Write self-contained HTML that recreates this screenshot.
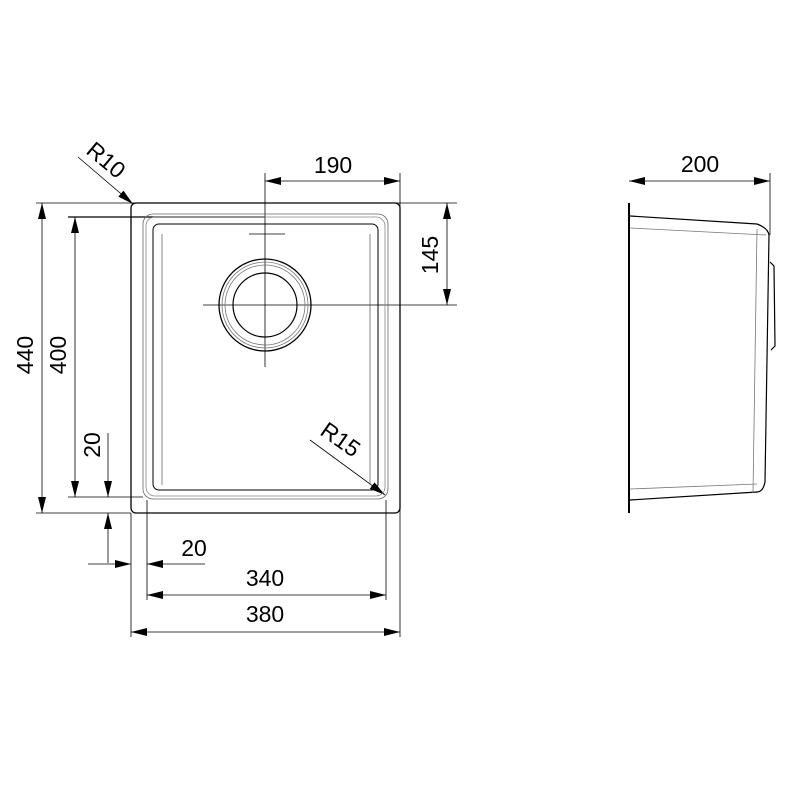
<!DOCTYPE html>
<html><head><style>html,body{margin:0;padding:0;background:#fff}svg{display:block}text{font-family:"Liberation Sans",sans-serif;font-size:23px;fill:#000}</style></head>
<body>
<svg width="800" height="800" viewBox="0 0 800 800" xmlns="http://www.w3.org/2000/svg">
<defs>
<marker id="a" viewBox="0 0 16 8" refX="16" refY="4" markerWidth="16" markerHeight="8" markerUnits="userSpaceOnUse" orient="auto-start-reverse"><path d="M0,0L16,4L0,8z" fill="#000"/></marker>
</defs>
<g fill="none" stroke="#000" stroke-width="0.8">
<line x1="36" y1="203" x2="457" y2="203"/>
<line x1="36" y1="513" x2="131" y2="513"/>
<line x1="68" y1="217" x2="265" y2="217" stroke-width="1.2"/>
<line x1="68" y1="497" x2="143" y2="497"/>
<line x1="400" y1="173" x2="400" y2="637"/>
<line x1="131" y1="513" x2="131" y2="637"/>
<line x1="147" y1="500" x2="147" y2="600"/>
<line x1="386" y1="500" x2="386" y2="600"/>
<line x1="265" y1="173" x2="265" y2="367"/>
<line x1="203" y1="305" x2="457" y2="305"/>
<line x1="265" y1="181" x2="400" y2="181" marker-start="url(#a)" marker-end="url(#a)"/>
<line x1="447" y1="203" x2="447" y2="305" marker-start="url(#a)" marker-end="url(#a)"/>
<line x1="42" y1="203" x2="42" y2="513" marker-start="url(#a)" marker-end="url(#a)"/>
<line x1="75" y1="217" x2="75" y2="497" marker-start="url(#a)" marker-end="url(#a)"/>
<line x1="108" y1="433" x2="108" y2="497" marker-end="url(#a)"/>
<line x1="108" y1="563" x2="108" y2="513" marker-end="url(#a)"/>
<line x1="88" y1="564" x2="131" y2="564" marker-end="url(#a)"/>
<line x1="205" y1="564" x2="147" y2="564" marker-end="url(#a)"/>
<line x1="147" y1="595" x2="386" y2="595" marker-start="url(#a)" marker-end="url(#a)"/>
<line x1="131" y1="632" x2="400" y2="632" marker-start="url(#a)" marker-end="url(#a)"/>
<line x1="78" y1="157" x2="133" y2="204" marker-end="url(#a)"/>
<line x1="310" y1="440" x2="385" y2="495" marker-end="url(#a)"/>
<rect x="131" y="203" width="269" height="310" rx="5" stroke-width="1.3"/>
<rect x="143" y="214" width="245" height="285" rx="10" stroke="#666"/>
<rect x="146" y="217" width="239" height="279" rx="9" stroke="#888"/>
<rect x="153" y="224" width="225" height="266" rx="6" stroke-width="1"/>
<line x1="162" y1="234" x2="162" y2="485" stroke="#666"/>
<line x1="370" y1="234" x2="370" y2="485" stroke="#666"/>
<line x1="249" y1="234" x2="285" y2="234"/>
<circle cx="265" cy="305" r="46" stroke-width="1.3"/>
<circle cx="265" cy="305" r="43" stroke="#777"/>
<circle cx="265" cy="305" r="40" stroke="#777"/>
<circle cx="265" cy="305" r="32" stroke-width="1.2"/>
<line x1="770" y1="173" x2="770" y2="235"/>
<line x1="629" y1="203" x2="629" y2="513" stroke-width="2"/>
<line x1="629" y1="181" x2="770" y2="181" marker-start="url(#a)" marker-end="url(#a)"/>
<path d="M630,216 L757,224 Q768,228 769,235 L765,482 Q763,492 757,492 L630,500" stroke-width="1.2"/>
<path d="M630,228 L766,235 M757,229 L753,493 M630,489 L757,484" stroke="#777"/>
<path d="M770,262 L774,266 L775,346 L771,350" stroke-width="1.2"/>
</g>
<text x="333" y="173" text-anchor="middle">190</text>
<text x="700" y="172" text-anchor="middle">200</text>
<text x="265" y="586" text-anchor="middle">340</text>
<text x="265" y="622" text-anchor="middle">380</text>
<text x="194" y="556" text-anchor="middle">20</text>
<text transform="translate(438,255) rotate(-90)" text-anchor="middle">145</text>
<text transform="translate(33,355) rotate(-90)" text-anchor="middle">440</text>
<text transform="translate(66,355) rotate(-90)" text-anchor="middle">400</text>
<text transform="translate(100,445) rotate(-90)" text-anchor="middle">20</text>
<text transform="translate(101,166) rotate(40)" text-anchor="middle">R10</text>
<text transform="translate(336,446) rotate(35)" text-anchor="middle">R15</text>
</svg>
</body></html>
